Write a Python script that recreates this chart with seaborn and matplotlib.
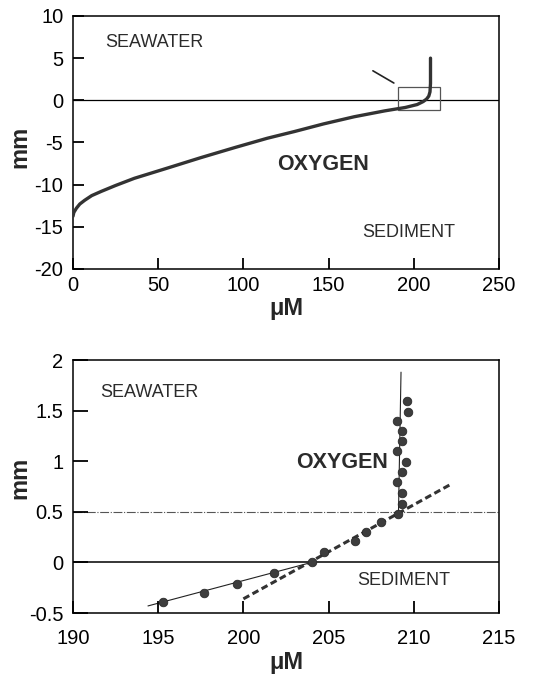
import matplotlib
matplotlib.use("Agg")
import matplotlib.pyplot as plt
import seaborn as sns
import pandas as pd
from matplotlib.patches import Rectangle

# ---- full oxygen microprofile (upper panel) ----
profile_o2 = [0, 0.5, 2, 4, 6.9, 11, 16.6, 25, 36, 56, 75, 95, 114, 130, 147, 165,
              183, 195, 202, 205.5, 207.5, 208.8, 209.5, 209.8, 209.8]
profile_depth = [-13.75, -13.3, -12.8, -12.3, -11.85, -11.3, -10.8, -10.1, -9.25, -8.0,
                 -6.8, -5.6, -4.5, -3.7, -2.8, -1.95, -1.25, -0.85, -0.5, -0.15, 0.15,
                 0.5, 1.0, 2.0, 5.0]

# ---- measured points near the interface (lower panel) ----
meas_o2 = [195.3, 197.7, 199.65, 201.8, 204.0, 204.75, 206.55, 207.2, 208.05, 209.1, 209.3,
           209.3, 209.0, 209.3, 209.55, 209.0, 209.3, 209.3, 209.0, 209.65, 209.6]
meas_depth = [-0.39, -0.30, -0.21, -0.10, 0.0, 0.10, 0.21, 0.30, 0.40, 0.48, 0.58,
              0.69, 0.79, 0.89, 0.99, 1.10, 1.20, 1.30, 1.40, 1.49, 1.60]

# fitted lines
sed_fit_o2 = [194.4, 204.0]
sed_fit_depth = [-0.43, 0.0]
dbl_fit_o2 = [200.0, 212.15]
dbl_fit_depth = [-0.36, 0.77]
water_fit_o2 = [209.25, 209.1]
water_fit_depth = [1.88, 0.48]

# zoom box and pointer on the upper panel
box_o2 = [190.6, 215.3]
box_depth = [-1.1, 1.55]
pointer_o2 = [176.0, 188.3]
pointer_depth = [3.5, 2.05]

dbl_depth = 0.5

top_xticks = [0, 50, 100, 150, 200, 250]
top_yticks = [-20, -15, -10, -5, 0, 5, 10]
bot_xticks = [190, 195, 200, 205, 210, 215]
bot_yticks = [-0.5, 0, 0.5, 1, 1.5, 2]

sns.set_style("ticks")
plt.rcParams.update({
    "font.family": ["Liberation Sans", "DejaVu Sans"],
    "axes.linewidth": 1.1,
    "axes.axisbelow": False,
    "xtick.direction": "in",
    "ytick.direction": "in",
    "xtick.color": "black",
    "ytick.color": "black",
    "xtick.major.size": 8,
    "ytick.major.size": 8,
    "xtick.major.width": 1.3,
    "ytick.major.width": 1.3,
    "xtick.bottom": True,
    "ytick.left": True,
    "xtick.labelsize": 14.5,
    "ytick.labelsize": 14.5,
})

fig = plt.figure(figsize=(5.39, 6.77), dpi=100)
ax1 = fig.add_axes([0.1354, 0.6027, 0.7904, 0.3737])
ax2 = fig.add_axes([0.1354, 0.0945, 0.7904, 0.3737])

ink = "#2b2b2b"

# ---------- upper panel ----------
prof = pd.DataFrame({"o2": profile_o2, "depth": profile_depth})
ax1.axhline(0, color="black", lw=0.9, zorder=1)
sns.lineplot(data=prof, x="o2", y="depth", sort=False, estimator=None,
             color="#333333", lw=2.4, ax=ax1, zorder=3)
ax1.add_patch(Rectangle((box_o2[0], box_depth[0]), box_o2[1] - box_o2[0],
                        box_depth[1] - box_depth[0], fill=False,
                        edgecolor="#555555", lw=0.9, zorder=2))
ax1.plot(pointer_o2, pointer_depth, color="#222222", lw=1.2)

ax1.set_xlim(0, 250)
ax1.set_ylim(-20, 10)
ax1.set_xticks(top_xticks, labels=[str(v) for v in top_xticks])
ax1.set_yticks(top_yticks, labels=[str(v) for v in top_yticks])
ax1.tick_params(axis="x", which="major", direction="in", length=8, width=1.3,
                color="black", pad=5, bottom=True)
ax1.tick_params(axis="y", which="major", direction="in", length=8, width=1.3,
                color="black", pad=7, left=True)

ax1.text(19, 6.9, "SEAWATER", fontsize=13, color=ink, ha="left", va="center")
ax1.text(120, -7.6, "OXYGEN", fontsize=15.5, fontweight="bold", color=ink, ha="left", va="center")
ax1.text(170, -15.7, "SEDIMENT", fontsize=13, color=ink, ha="left", va="center")

ax1.set_xlabel("μM", fontsize=17, fontweight="bold")
ax1.set_ylabel("mm", fontsize=17, fontweight="bold")
ax1.xaxis.set_label_coords(0.5, -0.11)
ax1.yaxis.set_label_coords(-0.097, 0.483)

# ---------- lower panel ----------
ax2.axhline(0, color="black", lw=1.1, zorder=1)
ax2.axhline(dbl_depth, color="#555555", lw=0.8, ls=(0, (8, 1.5, 1, 1.5)), zorder=1)

ax2.plot(sed_fit_o2, sed_fit_depth, color="#222222", lw=0.8, zorder=2)
ax2.plot(water_fit_o2, water_fit_depth, color="#222222", lw=0.8, zorder=2)
ax2.plot(dbl_fit_o2, dbl_fit_depth, color="#333333", lw=2.2, ls=(0, (2.2, 1.2)), zorder=2)

meas = pd.DataFrame({"o2": meas_o2, "depth": meas_depth})
sns.scatterplot(data=meas, x="o2", y="depth", s=38, color="#3d3d3d",
                edgecolor="#2a2a2a", linewidth=0.6, ax=ax2, zorder=4)

ax2.set_xlim(190, 215)
ax2.set_ylim(-0.5, 2)
ax2.set_xticks(bot_xticks, labels=[str(v) for v in bot_xticks])
ax2.set_yticks(bot_yticks, labels=["-0.5", "0", "0.5", "1", "1.5", "2"])
ax2.tick_params(axis="x", which="major", direction="in", length=8.5, width=1.3,
                color="black", pad=11.5, bottom=True)
ax2.tick_params(axis="y", which="major", direction="in", length=10.5, width=1.3,
                color="black", pad=7, left=True)

ax2.text(191.6, 1.68, "SEAWATER", fontsize=13, color=ink, ha="left", va="center")
ax2.text(203.1, 0.99, "OXYGEN", fontsize=15.5, fontweight="bold", color=ink, ha="left", va="center")
ax2.text(206.7, -0.175, "SEDIMENT", fontsize=13, color=ink, ha="left", va="center")

ax2.set_xlabel("μM", fontsize=17, fontweight="bold")
ax2.set_ylabel("mm", fontsize=17, fontweight="bold")
ax2.xaxis.set_label_coords(0.5, -0.15)
ax2.yaxis.set_label_coords(-0.097, 0.534)

for ax in (ax1, ax2):
    ax.set_axisbelow(False)
    for sp in ax.spines.values():
        sp.set_visible(True)
        sp.set_color("black")
        sp.set_linewidth(1.1)

fig.savefig("out.png", dpi=100)
